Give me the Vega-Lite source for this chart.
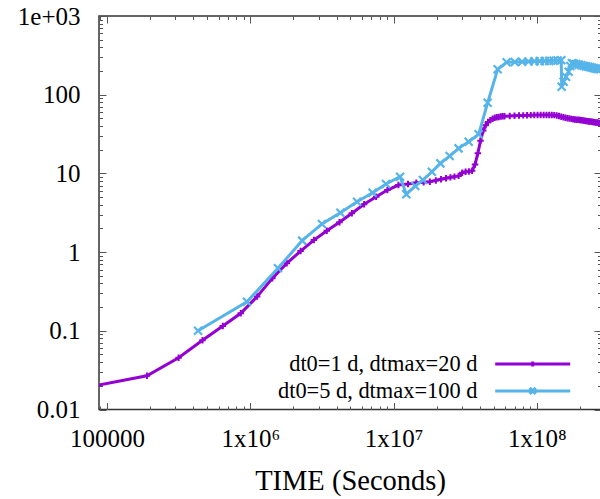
{
  "$schema": "https://vega.github.io/schema/vega-lite/v6.json",
  "width": 502,
  "height": 393.5,
  "autosize": {"type": "none"},
  "padding": {"left": 99, "top": 16, "right": 0, "bottom": 90},
  "background": "white",
  "config": {
    "font": "Liberation Serif",
    "view": {"stroke": "#333", "strokeWidth": 1.5},
    "axis": {"domain": false, "grid": false, "ticks": true, "tickColor": "#555", "tickWidth": 1, "labelFont": "Liberation Serif", "labelFontSize": 25, "labelColor": "black", "titleFont": "Liberation Serif", "titleFontSize": 28.5, "titleFontWeight": "normal", "titleColor": "black", "labelOverlap": false, "labelFlush": false}
  },
  "datasets": {
    "p": [
      {"t": 86400, "v": 0.0203}, {"t": 190000, "v": 0.0268}, {"t": 316000, "v": 0.0455}, {"t": 464000, "v": 0.0757},
      {"t": 643000, "v": 0.115}, {"t": 858000, "v": 0.167}, {"t": 1116000, "v": 0.272}, {"t": 1425000, "v": 0.464},
      {"t": 1797000, "v": 0.72}, {"t": 2243000, "v": 1.03}, {"t": 2778000, "v": 1.42}, {"t": 3419000, "v": 1.87},
      {"t": 4190000, "v": 2.39}, {"t": 5114000, "v": 3.11}, {"t": 6223000, "v": 4.05}, {"t": 7554000, "v": 5.06},
      {"t": 9050000, "v": 6.15}, {"t": 10800000, "v": 7.12}, {"t": 12600000, "v": 7.33}, {"t": 14400000, "v": 7.6},
      {"t": 16200000, "v": 7.7}, {"t": 17900000, "v": 7.85}, {"t": 19700000, "v": 8.15}, {"t": 21400000, "v": 8.45},
      {"t": 23200000, "v": 8.7}, {"t": 24900000, "v": 8.9}, {"t": 26600000, "v": 9.1}, {"t": 28400000, "v": 9.3},
      {"t": 30100000, "v": 10.2}, {"t": 31800000, "v": 10.5}, {"t": 33500000, "v": 10.6}, {"t": 35300000, "v": 10.8},
      {"t": 37000000, "v": 13}, {"t": 38700000, "v": 18}, {"t": 40400000, "v": 26}, {"t": 42200000, "v": 35},
      {"t": 43900000, "v": 41}, {"t": 45600000, "v": 45}, {"t": 47300000, "v": 47.5}, {"t": 49100000, "v": 49.5},
      {"t": 50800000, "v": 50.8}, {"t": 52500000, "v": 51.6}, {"t": 54200000, "v": 52.2}, {"t": 56000000, "v": 52.7},
      {"t": 57700000, "v": 53.1}, {"t": 59400000, "v": 53.4}, {"t": 64600000, "v": 53.8}, {"t": 69800000, "v": 54.1},
      {"t": 75000000, "v": 54.4}, {"t": 80200000, "v": 54.6}, {"t": 85400000, "v": 54.8}, {"t": 90600000, "v": 55.0},
      {"t": 95800000, "v": 55.1}, {"t": 101000000, "v": 55.2}, {"t": 106200000, "v": 55.3}, {"t": 111400000, "v": 55.3},
      {"t": 116600000, "v": 55.3}, {"t": 121800000, "v": 55.3}, {"t": 127000000, "v": 55.2}, {"t": 132200000, "v": 55.0},
      {"t": 137400000, "v": 54.5}, {"t": 142600000, "v": 53.6}, {"t": 147800000, "v": 52.6}, {"t": 153000000, "v": 51.6},
      {"t": 158200000, "v": 50.9}, {"t": 163400000, "v": 50.3}, {"t": 168600000, "v": 49.8}, {"t": 173800000, "v": 49.3},
      {"t": 179000000, "v": 48.9}, {"t": 184200000, "v": 48.5}, {"t": 189400000, "v": 48.2}, {"t": 194600000, "v": 47.9},
      {"t": 199800000, "v": 47.6}, {"t": 205000000, "v": 47.3}, {"t": 210200000, "v": 47.0}, {"t": 215400000, "v": 46.7},
      {"t": 220600000, "v": 46.4}, {"t": 225800000, "v": 46.1}, {"t": 231000000, "v": 45.8}, {"t": 236200000, "v": 45.5},
      {"t": 241400000, "v": 45.2}, {"t": 246600000, "v": 45.0}, {"t": 251800000, "v": 44.7}, {"t": 257000000, "v": 44.4},
      {"t": 262200000, "v": 44.2}, {"t": 267400000, "v": 43.9}, {"t": 272600000, "v": 43.7}, {"t": 277800000, "v": 43.5}
    ],
    "b": [
      {"t": 432000, "v": 0.1}, {"t": 948000, "v": 0.234}, {"t": 1560000, "v": 0.622}, {"t": 2300000, "v": 1.4},
      {"t": 3160000, "v": 2.28}, {"t": 4250000, "v": 3.17}, {"t": 5560000, "v": 4.37}, {"t": 7130000, "v": 5.69},
      {"t": 8850000, "v": 7.33}, {"t": 11100000, "v": 9.08}, {"t": 12260000, "v": 5.42}, {"t": 14160000, "v": 6.92},
      {"t": 16000000, "v": 8.24}, {"t": 18500000, "v": 10.5}, {"t": 21200000, "v": 13.4}, {"t": 24600000, "v": 16.6},
      {"t": 28400000, "v": 20.8}, {"t": 33400000, "v": 25.3}, {"t": 39200000, "v": 31.4}, {"t": 45300000, "v": 79.1},
      {"t": 53200000, "v": 210}, {"t": 61500000, "v": 258}, {"t": 70100000, "v": 260}, {"t": 78800000, "v": 262},
      {"t": 87400000, "v": 264}, {"t": 96100000, "v": 266}, {"t": 104700000, "v": 267}, {"t": 113400000, "v": 268},
      {"t": 122000000, "v": 269}, {"t": 130600000, "v": 270}, {"t": 139300000, "v": 272}, {"t": 147900000, "v": 274},
      {"t": 148800000, "v": 126}, {"t": 153500000, "v": 146}, {"t": 159600000, "v": 169}, {"t": 166400000, "v": 196},
      {"t": 171000000, "v": 232}, {"t": 175800000, "v": 251}, {"t": 180000000, "v": 249}, {"t": 188000000, "v": 245},
      {"t": 196000000, "v": 241}, {"t": 204000000, "v": 237}, {"t": 212000000, "v": 233}, {"t": 220000000, "v": 229},
      {"t": 228000000, "v": 226}, {"t": 236000000, "v": 223}, {"t": 244000000, "v": 220}, {"t": 252000000, "v": 217},
      {"t": 260000000, "v": 214}, {"t": 268000000, "v": 212}, {"t": 277000000, "v": 210}
    ]
  },
  "layer": [
    {
      "data": {"name": "p"},
      "mark": {"type": "line", "strokeWidth": 3, "clip": true},
      "encoding": {
        "x": {"field": "t", "type": "quantitative",
          "scale": {"type": "log", "domain": [87940, 280000000], "nice": false},
          "axis": {"orient": "bottom", "title": "TIME (Seconds)", "tickSize": -7, "labelPadding": 24, "titlePadding": 15,
            "values": [100000, 1000000, 10000000, 100000000],
            "labelExpr": "datum.value == 100000 ? '100000' : datum.value == 1000000 ? '1x10⁶' : datum.value == 10000000 ? '1x10⁷' : '1x10⁸'"}},
        "y": {"field": "v", "type": "quantitative",
          "scale": {"type": "log", "domain": [0.01, 1000], "nice": false},
          "axis": {"orient": "left", "title": null, "tickSize": -7, "labelPadding": 26,
            "values": [0.01, 0.1, 1, 10, 100, 1000],
            "labelExpr": "datum.value == 0.01 ? '0.01' : datum.value == 0.1 ? '0.1' : datum.value == 1 ? '1' : datum.value == 10 ? '10' : datum.value == 100 ? '100' : '1e+03'"}},
        "color": {"datum": "dt0=1 d, dtmax=20 d", "type": "nominal",
          "scale": {"domain": ["dt0=1 d, dtmax=20 d", "dt0=5 d, dtmax=100 d"], "range": ["#9400d3", "#56b4e9"]},
          "legend": {"orient": "none", "legendX": 422.5, "legendY": 336.7, "title": null, "symbolType": "M-7.5,0H7.5", "symbolSize": 100, "symbolStrokeWidth": 3, "labelAlign": "right", "labelOffset": -66.5, "labelLimit": 400, "labelFontSize": 22.4, "labelFont": "Liberation Serif", "labelColor": "black", "rowPadding": 4, "padding": 0,
            "encode": {"symbols": {"update": {"shape": {"signal": "datum.value == 'dt0=1 d, dtmax=20 d' ? 'M-7.5,0H7.5M0,-0.5V0.5' : 'M-7.5,0H7.5M-0.6,-0.6L0.6,0.6M-0.6,0.6L0.6,-0.6'"}}}}}}
      }
    },
    {
      "data": {"name": "p"},
      "mark": {"type": "point", "shape": "M-1,0H1M0,-1V1", "filled": false, "stroke": "#9400d3", "strokeWidth": 2, "size": 42, "opacity": 1, "clip": true},
      "encoding": {
        "x": {"field": "t", "type": "quantitative", "scale": {"type": "log", "domain": [87940, 280000000], "nice": false},
          "axis": {"orient": "bottom", "title": null, "labels": false, "tickSize": -3.5,
            "values": [90000, 200000, 300000, 400000, 500000, 600000, 700000, 800000, 900000, 2000000, 3000000, 4000000, 5000000, 6000000, 7000000, 8000000, 9000000, 20000000, 30000000, 40000000, 50000000, 60000000, 70000000, 80000000, 90000000, 200000000]}},
        "y": {"field": "v", "type": "quantitative", "scale": {"type": "log", "domain": [0.01, 1000], "nice": false},
          "axis": {"orient": "left", "title": null, "labels": false, "tickSize": -3.5,
            "values": [0.02, 0.03, 0.04, 0.05, 0.06, 0.07, 0.08, 0.09, 0.2, 0.3, 0.4, 0.5, 0.6, 0.7, 0.8, 0.9, 2, 3, 4, 5, 6, 7, 8, 9, 20, 30, 40, 50, 60, 70, 80, 90, 200, 300, 400, 500, 600, 700, 800, 900]}}
      }
    },
    {
      "data": {"name": "b"},
      "mark": {"type": "line", "strokeWidth": 3, "clip": true},
      "encoding": {
        "x": {"field": "t", "type": "quantitative",
          "axis": {"orient": "top", "title": null, "labels": false, "tickSize": -7, "values": [100000, 1000000, 10000000, 100000000]}},
        "y": {"field": "v", "type": "quantitative",
          "axis": {"orient": "right", "title": null, "labels": false, "tickSize": -7, "values": [0.01, 0.1, 1, 10, 100, 1000]}},
        "color": {"datum": "dt0=5 d, dtmax=100 d", "type": "nominal"}
      }
    },
    {
      "data": {"name": "b"},
      "mark": {"type": "point", "shape": "M-1,-1L1,1M-1,1L1,-1", "filled": false, "stroke": "#56b4e9", "strokeWidth": 2.2, "size": 64, "opacity": 1, "clip": true},
      "encoding": {
        "x": {"field": "t", "type": "quantitative",
          "axis": {"orient": "top", "title": null, "labels": false, "tickSize": -3.5,
            "values": [90000, 200000, 300000, 400000, 500000, 600000, 700000, 800000, 900000, 2000000, 3000000, 4000000, 5000000, 6000000, 7000000, 8000000, 9000000, 20000000, 30000000, 40000000, 50000000, 60000000, 70000000, 80000000, 90000000, 200000000]}},
        "y": {"field": "v", "type": "quantitative",
          "axis": {"orient": "right", "title": null, "labels": false, "tickSize": -3.5,
            "values": [0.02, 0.03, 0.04, 0.05, 0.06, 0.07, 0.08, 0.09, 0.2, 0.3, 0.4, 0.5, 0.6, 0.7, 0.8, 0.9, 2, 3, 4, 5, 6, 7, 8, 9, 20, 30, 40, 50, 60, 70, 80, 90, 200, 300, 400, 500, 600, 700, 800, 900]}}
      }
    }
  ]
}
